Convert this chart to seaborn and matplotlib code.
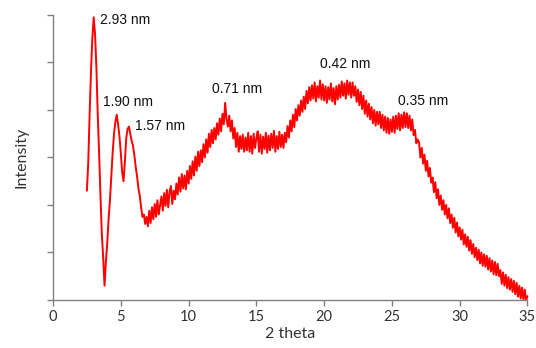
import numpy as np
import pandas as pd
import seaborn as sns
import matplotlib
matplotlib.use('Agg')
import matplotlib.pyplot as plt

# XRD 曲线：2theta 从 2.5 开始，每 0.1 度一个点
theta_start = 2.5
theta_step = 0.1

intensity = [
    # 2.5 - 6.9
    2.30, 2.90, 3.90, 4.80, 5.50, 5.95, 5.60, 4.90, 3.90, 3.10,
    2.20, 1.40, 0.90, 0.30, 0.80, 1.20, 1.70, 2.10, 2.60, 3.10,
    3.50, 3.75, 3.90, 3.70, 3.45, 3.10, 2.70, 2.50, 2.90, 3.40,
    3.60, 3.65, 3.50, 3.35, 3.25, 3.05, 2.80, 2.60, 2.35, 2.20,
    1.95, 1.75, 1.80, 1.60, 1.75,
    # 7.0 - 34.9
    1.55, 1.88, 1.62, 1.95, 1.70, 2.02, 1.75, 2.10, 1.80, 2.00,
    2.18, 1.88, 2.25, 1.98, 2.32, 1.95, 2.28, 2.40, 2.02, 2.30,
    2.12, 2.45, 2.22, 2.58, 2.28, 2.65, 2.35, 2.62, 2.33, 2.72,
    2.45, 2.82, 2.55, 2.92, 2.62, 3.02, 2.72, 3.12, 2.82, 3.15,
    2.90, 3.28, 3.00, 3.38, 3.10, 3.50, 3.22, 3.58, 3.30, 3.62,
    3.38, 3.72, 3.48, 3.82, 3.55, 3.92, 3.70, 4.15, 3.80, 3.65,
    3.88, 3.55, 3.78, 3.40, 3.62, 3.22, 3.52, 3.12, 3.45, 3.18,
    3.48, 3.12, 3.42, 3.15, 3.52, 3.12, 3.45, 3.08, 3.50, 3.20,
    3.40, 3.55, 3.12, 3.48, 3.08, 3.44, 3.18, 3.52, 3.10, 3.46,
    3.15, 3.50, 3.20, 3.56, 3.12, 3.45, 3.18, 3.54, 3.22, 3.48,
    3.20, 3.52, 3.32, 3.66, 3.42, 3.78, 3.55, 3.90, 3.64, 4.02,
    3.78, 4.10, 3.88, 4.20, 3.96, 4.28, 4.02, 4.40, 4.14, 4.48,
    4.20, 4.52, 4.24, 4.58, 4.18, 4.50, 4.26, 4.62, 4.22, 4.54,
    4.20, 4.50, 4.15, 4.48, 4.22, 4.56, 4.18, 4.46, 4.12, 4.50,
    4.22, 4.53, 4.26, 4.60, 4.30, 4.56, 4.24, 4.62, 4.32, 4.58,
    4.26, 4.58, 4.30, 4.50, 4.17, 4.43, 4.10, 4.38, 4.02, 4.30,
    3.92, 4.20, 3.86, 4.13, 3.80, 4.06, 3.72, 4.00, 3.67, 3.96,
    3.70, 3.96, 3.62, 3.90, 3.57, 3.86, 3.52, 3.83, 3.50, 3.80,
    3.54, 3.86, 3.52, 3.88, 3.60, 3.93, 3.57, 3.90, 3.62, 3.95,
    3.64, 3.93, 3.62, 3.88, 3.57, 3.80, 3.47, 3.58, 3.30, 3.38,
    3.32, 3.00, 3.20, 2.87, 3.06, 2.72, 2.93, 2.60, 2.78, 2.47,
    2.58, 2.27, 2.48, 2.14, 2.33, 2.00, 2.20, 1.90, 2.10, 1.80,
    2.00, 1.72, 1.93, 1.62, 1.80, 1.52, 1.73, 1.42, 1.63, 1.34,
    1.53, 1.27, 1.48, 1.17, 1.38, 1.12, 1.33, 1.04, 1.26, 0.97,
    1.18, 0.90, 1.10, 0.84, 1.06, 0.77, 1.00, 0.72, 0.96, 0.70,
    0.93, 0.64, 0.88, 0.60, 0.83, 0.54, 0.80, 0.52, 0.76, 0.50,
    0.63, 0.34, 0.58, 0.30, 0.53, 0.25, 0.48, 0.22, 0.44, 0.17,
    0.40, 0.12, 0.36, 0.07, 0.30, 0.03, 0.26, 0.00, 0.22, 0.00,
    # 35.0
    0.08,
]

# 峰位标注
peak_labels = ['2.93 nm', '1.90 nm', '1.57 nm', '0.71 nm', '0.42 nm', '0.35 nm']
label_x = [3.45, 3.68, 6.05, 11.75, 19.7, 25.45]
label_y = [5.9, 4.16, 3.66, 4.44, 4.97, 4.19]

x_ticks = [0, 5, 10, 15, 20, 25, 30, 35]

two_theta = np.round(theta_start + theta_step * np.arange(len(intensity)), 2)
df = pd.DataFrame({'two_theta': two_theta, 'intensity': intensity})

sns.set_style('white')

fig = plt.figure(figsize=(5.36, 3.48), dpi=100)
ax = fig.add_axes([0.0989, 0.138, 0.8852, 0.819])

sns.lineplot(data=df, x='two_theta', y='intensity', color='#ff0000',
             linewidth=1.4, estimator=None, ax=ax, clip_on=False)

for t, x, y in zip(peak_labels, label_x, label_y):
    ax.text(x, y, t, fontsize=10, family='Liberation Sans', color='#111111',
            ha='left', va='center')

ax.set_xlim(0, 35)
ax.set_ylim(0, 6)
ax.set_xticks(x_ticks)
ax.set_yticks(range(0, 7))
ax.set_xticklabels([str(v) for v in x_ticks], family='Lato', fontsize=10.5, color='#333333')
ax.tick_params(axis='y', labelleft=False)
ax.tick_params(axis='both', direction='out', length=4, width=1, color='#808080',
               bottom=True, left=True)

for s in ['top', 'right']:
    ax.spines[s].set_visible(False)
for s in ['left', 'bottom']:
    ax.spines[s].set_color('#808080')
    ax.spines[s].set_linewidth(1)

ax.set_xlabel('2 theta', family='Lato', fontsize=11.5, color='#333333', labelpad=2)
ax.set_ylabel('Intensity', family='Lato', fontsize=11.5, color='#333333', labelpad=14)

fig.savefig('out.png', dpi=100)
